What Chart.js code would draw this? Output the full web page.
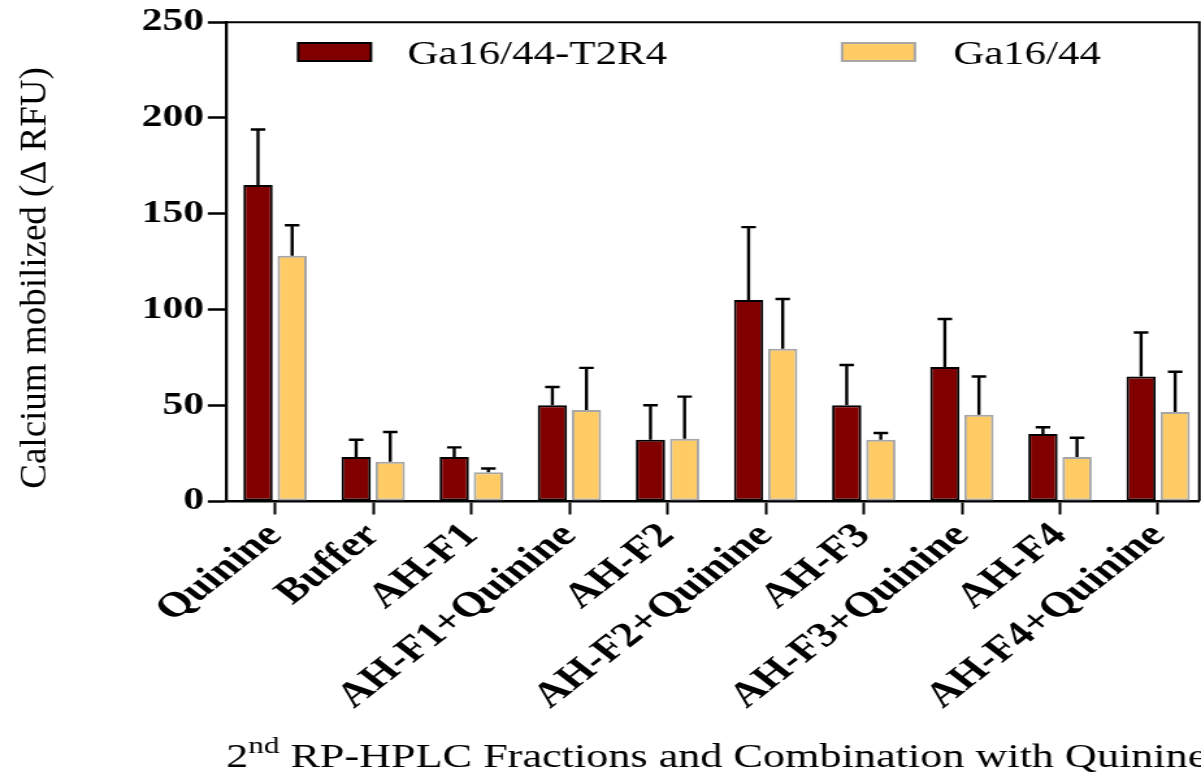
<!DOCTYPE html>
<html lang="en">
<head>
<meta charset="UTF-8">
<title>Calcium mobilization</title>
<script src="https://cdn.jsdelivr.net/npm/chart.js@4.4.1/dist/chart.umd.min.js"></script>
<style>
    html, body { margin: 0; padding: 0; background: #fff; }
    #chart { display: block; }
</style>
</head>
<body>
<!-- drawn on a narrower canvas, then stretched sideways like the printed figure -->
<canvas id="chart" width="924" height="775" style="width:1201px;height:775px"></canvas>
<script>
    const STRETCH = 1201 / 924;

    const categories = ['Quinine', 'Buffer', 'AH-F1', 'AH-F1+Quinine', 'AH-F2', 'AH-F2+Quinine',
        'AH-F3', 'AH-F3+Quinine', 'AH-F4', 'AH-F4+Quinine'];
    const seriesNames = ['Ga16/44-T2R4', 'Ga16/44'];
    const t2r4Mean = [165, 23, 23, 50, 32, 105, 50, 70, 35, 65];
    const t2r4Err = [29, 9, 5, 9.5, 18, 38, 21, 25, 3.5, 23];
    const gaMean = [128, 20.5, 15, 47.5, 32.5, 79.5, 32, 45, 23, 46.5];
    const gaErr = [16, 15.5, 2, 22, 22, 26, 3.5, 20, 10, 21];
    const yTicks = [0, 50, 100, 150, 200, 250];

    const darkRed = '#800000';
    const sand = '#fecb64';
    const serif = 'Liberation Serif';

    // mean + SEM caps, drawn upward only
    const errorBars = {
        id: 'errorBars',
        afterDatasetsDraw(chart) {
            const { ctx } = chart;
            const y = chart.scales.y;
            const errs = [t2r4Err, gaErr];
            ctx.save();
            ctx.strokeStyle = '#000';
            ctx.lineWidth = 2.4;
            chart.data.datasets.forEach((ds, di) => {
                chart.getDatasetMeta(di).data.forEach((bar, i) => {
                    const top = y.getPixelForValue(ds.data[i].y + errs[di][i]);
                    ctx.beginPath();
                    ctx.moveTo(bar.x, bar.y);
                    ctx.lineTo(bar.x, top);
                    ctx.moveTo(bar.x - 5.6, top);
                    ctx.lineTo(bar.x + 5.6, top);
                    ctx.stroke();
                });
            });
            ctx.restore();
        }
    };

    // frame, legend and axis titles
    const decorations = {
        id: 'decorations',
        afterDraw(chart) {
            const { ctx, chartArea: a } = chart;
            ctx.save();
            ctx.strokeStyle = '#000';
            ctx.lineWidth = 2;
            ctx.beginPath();
            ctx.moveTo(a.left, a.top);
            ctx.lineTo(a.right, a.top);
            ctx.lineTo(a.right, a.bottom);
            ctx.stroke();

            // legend
            const items = [
                { x: a.left + 55.5, tx: a.left + 139.5, fill: darkRed, edge: '#000' },
                { x: a.left + 474, tx: a.left + 559.5, fill: sand, edge: '#a6a6a6' }
            ];
            ctx.font = `33px "${serif}"`;
            ctx.textBaseline = 'alphabetic';
            ctx.textAlign = 'left';
            items.forEach((it, i) => {
                ctx.fillStyle = it.fill;
                ctx.fillRect(it.x, 43, 56, 18);
                ctx.strokeStyle = it.edge;
                ctx.lineWidth = 2;
                ctx.strokeRect(it.x, 43, 56, 18);
                ctx.fillStyle = '#000';
                ctx.fillText(seriesNames[i], it.tx, 64);
            });

            // y title, squeezed back so it reads at normal proportions
            ctx.save();
            ctx.translate(36 / STRETCH, 278);
            ctx.scale(1 / STRETCH, 1);
            ctx.rotate(-Math.PI / 2);
            ctx.font = `37px "${serif}"`;
            ctx.textAlign = 'center';
            ctx.textBaseline = 'middle';
            ctx.fillText('Calcium mobilized (\u0394 RFU)', 0, 0);
            ctx.restore();

            // x title with superscript ordinal
            let x = a.left;
            const base = 767;
            ctx.font = `34px "${serif}"`;
            ctx.fillText('2', x, base);
            x += ctx.measureText('2').width;
            ctx.font = `24px "${serif}"`;
            ctx.fillText('nd', x, base - 14);
            x += ctx.measureText('nd').width;
            ctx.font = `34px "${serif}"`;
            ctx.fillText(' RP-HPLC Fractions and Combination with Quinine', x, base);
            ctx.restore();
        }
    };

    const ctx = document.getElementById('chart').getContext('2d');
    new Chart(ctx, {
        type: 'bar',
        data: {
            datasets: [{
                label: seriesNames[0],
                data: t2r4Mean.map((v, i) => ({ x: i, y: v })),
                backgroundColor: darkRed,
                borderColor: '#000',
                borderWidth: 2,
                borderSkipped: false
            }, {
                label: seriesNames[1],
                data: gaMean.map((v, i) => ({ x: i, y: v })),
                backgroundColor: sand,
                borderColor: '#a6a6a6',
                borderWidth: 2,
                borderSkipped: false
            }]
        },
        options: {
            responsive: false,
            animation: false,
            devicePixelRatio: 1,
            categoryPercentage: 0.695,
            barPercentage: 0.86,
            layout: { padding: { top: 22, right: 1.3, bottom: 0, left: 0 } },
            plugins: {
                legend: { display: false },
                tooltip: { enabled: false }
            },
            scales: {
                x: {
                    type: 'linear',
                    offset: false,
                    bounds: 'data',
                    min: -0.5,
                    max: 9.42,
                    afterBuildTicks: axis => { axis.ticks = categories.map((c, i) => ({ value: i })); },
                    afterFit: axis => { axis.height = 775 - 501; },
                    border: { color: '#000', width: 2.5 },
                    grid: { offset: false, drawOnChartArea: false, tickLength: 13.5, tickWidth: 2, tickColor: '#000' },
                    ticks: {
                        autoSkip: false,
                        includeBounds: false,
                        minRotation: 45,
                        maxRotation: 45,
                        padding: 1,
                        color: '#000',
                        font: { family: serif, size: 35, weight: 'bold' },
                        callback: v => categories[Math.round(v)]
                    }
                },
                y: {
                    min: 0,
                    max: 250,
                    afterBuildTicks: axis => { axis.ticks = yTicks.map(v => ({ value: v })); },
                    afterFit: axis => { axis.width = 226 / STRETCH; },
                    border: { color: '#000', width: 2.3 },
                    grid: { drawOnChartArea: false, tickLength: 14, tickWidth: 2.5, tickColor: '#000' },
                    ticks: {
                        padding: 3,
                        color: '#000',
                        font: { family: serif, size: 32, weight: 'bold' }
                    }
                }
            }
        },
        plugins: [errorBars, decorations]
    });
</script>
</body>
</html>
